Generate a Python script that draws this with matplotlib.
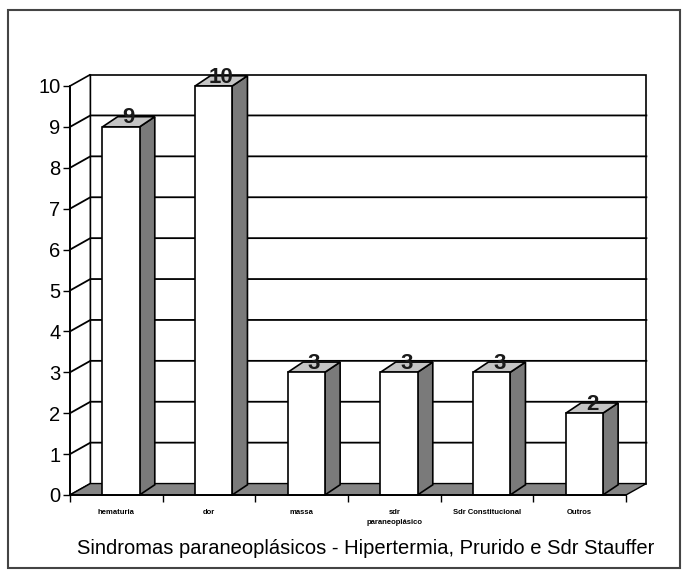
import matplotlib
matplotlib.use("Agg")
import matplotlib.pyplot as plt
from matplotlib.patches import Polygon, Rectangle

categories = ["hematuria", "dor", "massa", "sdr\nparaneoplásico", "Sdr Constitucional", "Outros"]
values = [9, 10, 3, 3, 3, 2]
yticks = list(range(0, 11))
title = "Sindromas paraneoplásicos - Hipertermia, Prurido e Sdr Stauffer"

plt.rcParams['font.family'] = ['Liberation Sans', 'DejaVu Sans']

W, H = 686, 576
fig = plt.figure(figsize=(W / 100, H / 100), dpi=100)
ax = fig.add_axes([70 / W, (H - 495) / H, 556 / W, 409 / H])
n = len(categories)
ymax = 10
ax.set_xlim(0, n)
ax.set_ylim(0, ymax)

# wall depth offset
dxw, dyw = 0.22, 0.28
# bar depth offset
dxb, dyb = 0.165, 0.25
bw = 0.40
boff = 0.35

floor_c = "#858585"
side_c = "#7a7a7a"
top_c = "#c4c4c4"

# back wall
ax.add_patch(Rectangle((dxw, dyw), n, ymax, facecolor="white", edgecolor="black", lw=1.2, clip_on=False, zorder=1))
# left wall
ax.add_patch(Polygon([(0, 0), (dxw, dyw), (dxw, ymax + dyw), (0, ymax)], closed=True,
                     facecolor="white", edgecolor="black", lw=1.2, clip_on=False, zorder=1))
# gridlines
for k in yticks[1:-1]:
    ax.plot([0, dxw, n + dxw], [k, k + dyw, k + dyw], color="black", lw=1.3, clip_on=False, zorder=2)
# floor
ax.add_patch(Polygon([(0, 0), (n, 0), (n + dxw, dyw), (dxw, dyw)], closed=True,
                     facecolor=floor_c, edgecolor="black", lw=1.0, clip_on=False, zorder=3))

# bars
xs = [i + boff for i in range(n)]
ax.bar(xs, values, width=bw, align="edge", color="white", edgecolor="black", lw=1.2, zorder=5, clip_on=False)
for x, v in zip(xs, values):
    ax.add_patch(Polygon([(x + bw, 0), (x + bw + dxb, dyb), (x + bw + dxb, v + dyb), (x + bw, v)], closed=True,
                         facecolor=side_c, edgecolor="black", lw=1.2, zorder=4, clip_on=False))
    ax.add_patch(Polygon([(x, v), (x + dxb, v + dyb), (x + bw + dxb, v + dyb), (x + bw, v)], closed=True,
                         facecolor=top_c, edgecolor="black", lw=1.2, zorder=4, clip_on=False))
    ax.text(x + bw / 2 + dxb / 2, v + 0.22, str(v), ha="center", va="center", fontsize=16,
            fontweight="bold", color="#1a1a1a", zorder=7, clip_on=False)

# axes
for s in ["top", "right"]:
    ax.spines[s].set_visible(False)
ax.spines["left"].set_linewidth(1.3)
ax.spines["bottom"].set_linewidth(1.3)
ax.spines["left"].set_zorder(6)
ax.spines["bottom"].set_zorder(6)
ax.set_yticks(yticks)
ax.set_yticklabels([str(t) for t in yticks], fontsize=14.5)
ax.tick_params(axis="y", length=5, width=1.0, pad=2)
ax.set_xticks([i + 0.5 for i in range(n)])
ax.set_xticklabels(categories, fontsize=5.5, fontweight="bold", linespacing=1.6)
ax.set_xticks(list(range(n + 1)), minor=True)
ax.tick_params(axis="x", which="major", length=0, pad=10)
ax.tick_params(axis="x", which="minor", length=5, width=1.0)
ax.set_facecolor("none")

fig.text(366 / W, 1 - 548 / H, title, ha="center", va="center", fontsize=14.5,
         family=["Liberation Sans Narrow", "Liberation Sans", "DejaVu Sans"])

# outer border
fig.patches.append(Rectangle((8 / W, 1 - 568 / H), 672 / W, 558 / H, transform=fig.transFigure,
                             fill=False, edgecolor="#444444", lw=1.5))

fig.savefig("out.png", dpi=100)
